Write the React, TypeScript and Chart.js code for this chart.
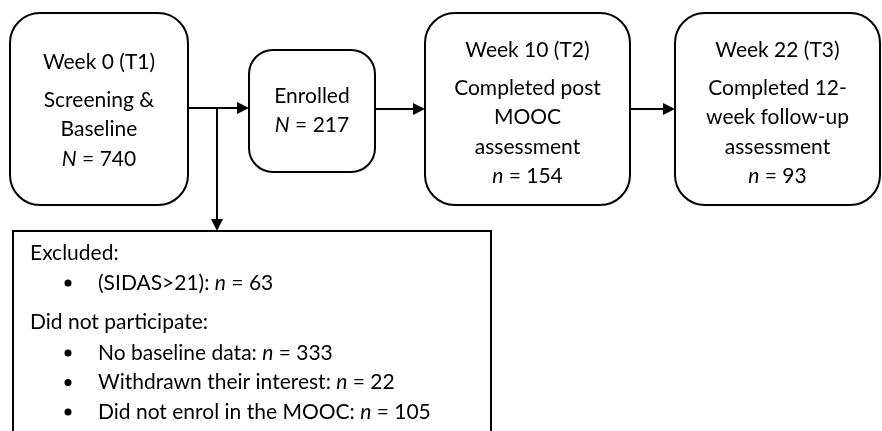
import React, { useEffect, useRef } from "react";
import { Chart, registerables } from "chart.js";

Chart.register(...registerables);

// ---- data ----
const stageTitles = ["Week 0 (T1)", "", "Week 10 (T2)", "Week 22 (T3)"];
const stageLabels = [
  ["Screening &", "Baseline"],
  ["Enrolled"],
  ["Completed post", "MOOC", "assessment"],
  ["Completed 12-", "week follow-up", "assessment"],
];
const countSymbols = ["N", "N", "n", "n"];
const stageCounts = [740, 217, 154, 93];

const excludedHeading = "Excluded:";
const excludedLabels = ["(SIDAS>21)"];
const excludedCounts = [63];
const nonParticipationHeading = "Did not participate:";
const nonParticipationLabels = ["No baseline data", "Withdrawn their interest", "Did not enrol in the MOOC"];
const nonParticipationCounts = [333, 22, 105];

// ---- layout (data coordinates on a 0..882 x 0..431 canvas scale) ----
const stageBoxes = [
  { x0: 10, y0: 13, x1: 188, y1: 205, r: 30, firstY: 62 },
  { x0: 249, y0: 50, x1: 375, y1: 172, r: 24, firstY: 96 },
  { x0: 425, y0: 13, x1: 630, y1: 205, r: 30, firstY: 50 },
  { x0: 675, y0: 13, x1: 880, y1: 205, r: 30, firstY: 50 },
];
const exclBox = { x0: 13, y0: 231, x1: 491, y1: 445 };
const LINE_H = 29.5;
const TITLE_GAP = 8.5;
const FONT = "Lato, 'DejaVu Sans', sans-serif";
const FS = 21;

type Seg = { t: string; i?: boolean };

function drawRich(ctx: CanvasRenderingContext2D, segs: Seg[], x: number, y: number, align: "center" | "left") {
  const widths = segs.map((s) => {
    ctx.font = `${s.i ? "italic " : ""}${FS}px ${FONT}`;
    return ctx.measureText(s.t).width;
  });
  const total = widths.reduce((a, b) => a + b, 0);
  let cx = align === "center" ? x - total / 2 : x;
  ctx.textAlign = "left";
  ctx.textBaseline = "middle";
  segs.forEach((s, k) => {
    ctx.font = `${s.i ? "italic " : ""}${FS}px ${FONT}`;
    ctx.fillText(s.t, cx, y);
    cx += widths[k];
  });
}

function arrow(ctx: CanvasRenderingContext2D, x0: number, y0: number, x1: number, y1: number) {
  const ang = Math.atan2(y1 - y0, x1 - x0);
  const L = 12, W = 6;
  ctx.beginPath();
  ctx.moveTo(x0, y0);
  ctx.lineTo(x1 - L * Math.cos(ang), y1 - L * Math.sin(ang));
  ctx.stroke();
  ctx.beginPath();
  ctx.moveTo(x1, y1);
  ctx.lineTo(x1 - L * Math.cos(ang) - W * Math.sin(ang), y1 - L * Math.sin(ang) + W * Math.cos(ang));
  ctx.lineTo(x1 - L * Math.cos(ang) + W * Math.sin(ang), y1 - L * Math.sin(ang) - W * Math.cos(ang));
  ctx.closePath();
  ctx.fill();
}

const flowPlugin = {
  id: "flow",
  afterDraw(chart: any) {
    const ctx: CanvasRenderingContext2D = chart.ctx;
    const xs = chart.scales.x;
    const ys = chart.scales.y;
    const px = (v: number) => xs.getPixelForValue(v);
    const py = (v: number) => ys.getPixelForValue(v);
    ctx.save();
    ctx.strokeStyle = "#000";
    ctx.fillStyle = "#000";

    // stage boxes
    stageBoxes.forEach((b, k) => {
      const x0 = px(b.x0), x1 = px(b.x1), y0 = py(b.y0), y1 = py(b.y1);
      ctx.lineWidth = 2;
      ctx.beginPath();
      (ctx as any).roundRect(x0, y0, x1 - x0, y1 - y0, b.r);
      ctx.stroke();
      const cx = (x0 + x1) / 2;
      let y = py(b.firstY);
      if (stageTitles[k]) {
        drawRich(ctx, [{ t: stageTitles[k] }], cx, y, "center");
        y += LINE_H + TITLE_GAP;
      }
      stageLabels[k].forEach((l) => {
        drawRich(ctx, [{ t: l }], cx, y, "center");
        y += LINE_H;
      });
      drawRich(ctx, [{ t: countSymbols[k], i: true }, { t: ` = ${stageCounts[k]}` }], cx, y, "center");
    });

    // arrows
    ctx.lineWidth = 2;
    arrow(ctx, px(stageBoxes[0].x1), py(108), px(stageBoxes[1].x0), py(108));
    arrow(ctx, px(217), py(108), px(217), py(exclBox.y0));
    arrow(ctx, px(stageBoxes[1].x1), py(109), px(stageBoxes[2].x0), py(109));
    arrow(ctx, px(stageBoxes[2].x1), py(109), px(stageBoxes[3].x0), py(109));

    // excluded box
    ctx.lineWidth = 2;
    ctx.strokeRect(px(exclBox.x0), py(exclBox.y0), px(exclBox.x1) - px(exclBox.x0), py(exclBox.y1) - py(exclBox.y0));
    const tx = px(30), bx = px(68), btx = px(98);
    const bullet = (y: number) => {
      ctx.beginPath();
      ctx.arc(bx, y, 3.5, 0, Math.PI * 2);
      ctx.fill();
    };
    let y = py(253);
    drawRich(ctx, [{ t: excludedHeading }], tx, y, "left");
    y = py(283);
    excludedLabels.forEach((l, k) => {
      bullet(y);
      drawRich(ctx, [{ t: `${l}: ` }, { t: "n", i: true }, { t: ` = ${excludedCounts[k]}` }], btx, y, "left");
      y += LINE_H;
    });
    y = py(322);
    drawRich(ctx, [{ t: nonParticipationHeading }], tx, y, "left");
    y = py(353);
    nonParticipationLabels.forEach((l, k) => {
      bullet(y);
      drawRich(ctx, [{ t: `${l}: ` }, { t: "n", i: true }, { t: ` = ${nonParticipationCounts[k]}` }], btx, y, "left");
      y += 29.5;
    });
    ctx.restore();
  },
};

export default function App() {
  const ref = useRef<HTMLCanvasElement>(null);
  useEffect(() => {
    document.body.style.margin = "0";
    document.body.style.background = "#fff";
    const chart = new Chart(ref.current!, {
      type: "scatter",
      data: {
        datasets: [
          {
            data: stageBoxes.map((b, k) => ({ x: (b.x0 + b.x1) / 2, y: (b.y0 + b.y1) / 2, c: stageCounts[k] })) as any,
            pointRadius: 0,
          },
        ],
      },
      options: {
        responsive: false,
        animation: false,
        layout: { padding: 0 },
        plugins: { legend: { display: false }, tooltip: { enabled: false } },
        scales: {
          x: { type: "linear", min: 0, max: 882, display: false },
          y: { type: "linear", min: 0, max: 431, reverse: true, display: false },
        },
      },
      plugins: [flowPlugin],
    });
    return () => chart.destroy();
  }, []);
  return (
    <div style={{ width: 882, height: 431, background: "#fff" }}>
      <canvas ref={ref} width={882} height={431} style={{ display: "block" }} />
    </div>
  );
}
